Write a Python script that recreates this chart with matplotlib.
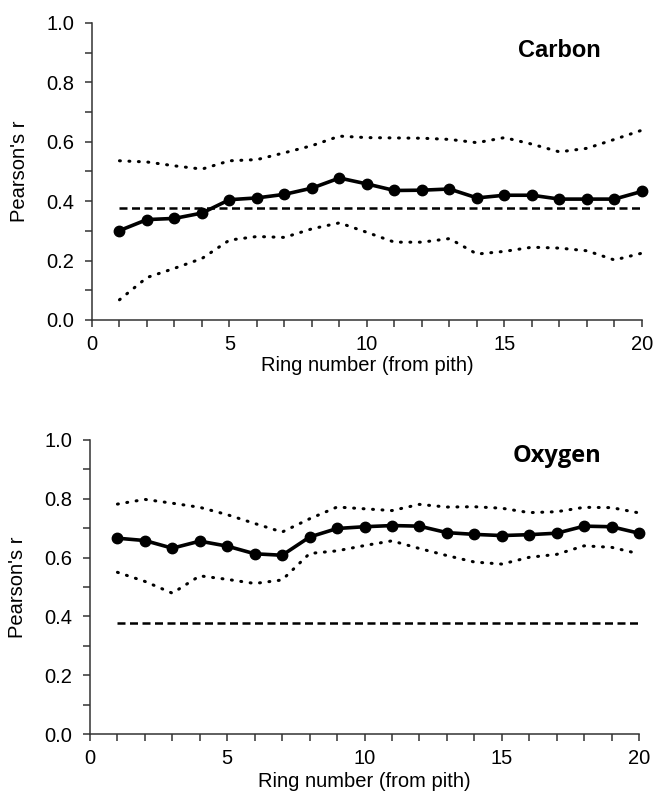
import numpy as np
import matplotlib.pyplot as plt

plt.rcParams['font.family'] = ['Liberation Sans', 'DejaVu Sans']

rings = np.arange(1, 21)
threshold = 0.376

carbon_mean = [0.301, 0.338, 0.342, 0.360, 0.405, 0.411, 0.423, 0.444, 0.478, 0.458,
               0.436, 0.437, 0.441, 0.411, 0.420, 0.420, 0.407, 0.407, 0.407, 0.433]
carbon_upper = [0.536, 0.532, 0.519, 0.508, 0.536, 0.540, 0.563, 0.587, 0.619, 0.614,
                0.613, 0.612, 0.608, 0.597, 0.614, 0.592, 0.566, 0.578, 0.608, 0.639]
carbon_lower = [0.068, 0.143, 0.174, 0.207, 0.269, 0.281, 0.278, 0.307, 0.327, 0.295,
                0.262, 0.262, 0.274, 0.222, 0.231, 0.245, 0.242, 0.233, 0.202, 0.225]

oxygen_mean = [0.666, 0.658, 0.632, 0.656, 0.639, 0.613, 0.608, 0.670, 0.699, 0.705,
               0.709, 0.707, 0.685, 0.679, 0.675, 0.678, 0.683, 0.707, 0.705, 0.683]
oxygen_upper = [0.782, 0.798, 0.785, 0.771, 0.746, 0.716, 0.687, 0.732, 0.772, 0.766,
                0.760, 0.781, 0.772, 0.773, 0.768, 0.753, 0.756, 0.771, 0.770, 0.752]
oxygen_lower = [0.550, 0.519, 0.479, 0.538, 0.526, 0.512, 0.524, 0.614, 0.623, 0.641,
                0.657, 0.631, 0.607, 0.585, 0.578, 0.601, 0.611, 0.640, 0.635, 0.613]

fig = plt.figure(figsize=(6.56, 8.06), dpi=100)
ax1 = fig.add_axes([0.1402, 0.603, 0.8384, 0.3685])
ax2 = fig.add_axes([0.1372, 0.0893, 0.8369, 0.3648])

panels = [(ax1, carbon_mean, carbon_upper, carbon_lower, 'Carbon', 0.885, 1),
          (ax2, oxygen_mean, oxygen_upper, oxygen_lower, 'Oxygen', 0.926, 3)]

dots = (0, (0.3, 2.8))
dashes = (0, (3.2, 1.8))

for ax, mean, upper, lower, name, ty, xpad in panels:
    ax.plot(rings, upper, color='black', lw=2.2, linestyle=dots,
            dash_capstyle='round')
    ax.plot(rings, lower, color='black', lw=2.2, linestyle=dots,
            dash_capstyle='round')
    ax.plot([rings[0], rings[-1]], [threshold, threshold], color='black', lw=1.8,
            linestyle=dashes)
    ax.plot(rings, mean, color='black', lw=2.6, marker='o', markersize=7.5,
            clip_on=False, zorder=5)

    ax.set_xlim(0, 20)
    ax.set_ylim(0, 1.0)
    ax.set_xticks([0, 5, 10, 15, 20])
    ax.set_xticks(np.arange(0, 21, 1), minor=True)
    ax.set_yticks(np.arange(0, 1.01, 0.2))
    ax.set_yticks(np.arange(0, 1.01, 0.1), minor=True)
    ax.set_yticklabels(['0.0', '0.2', '0.4', '0.6', '0.8', '1.0'])
    for s in ['top', 'right']:
        ax.spines[s].set_visible(False)
    for s in ['left', 'bottom']:
        ax.spines[s].set_color('#333333')
        ax.spines[s].set_linewidth(1.1)
    ax.tick_params(which='both', direction='out', length=5, width=1.1,
                   color='#333333', labelsize=14.5)
    ax.tick_params(axis='y', pad=8)
    ax.tick_params(axis='x', pad=6)
    ax.set_xlabel('Ring number (from pith)', fontsize=14.5, labelpad=xpad)
    ax.set_ylabel("Pearson's r", fontsize=14.5, labelpad=12)
    fam = ['Liberation Sans'] if name == 'Carbon' else ['Open Sans']
    ax.text(17.0, ty, name, fontsize=17, fontweight='bold', family=fam,
            ha='center', va='baseline')

fig.savefig('out.png', dpi=100)
